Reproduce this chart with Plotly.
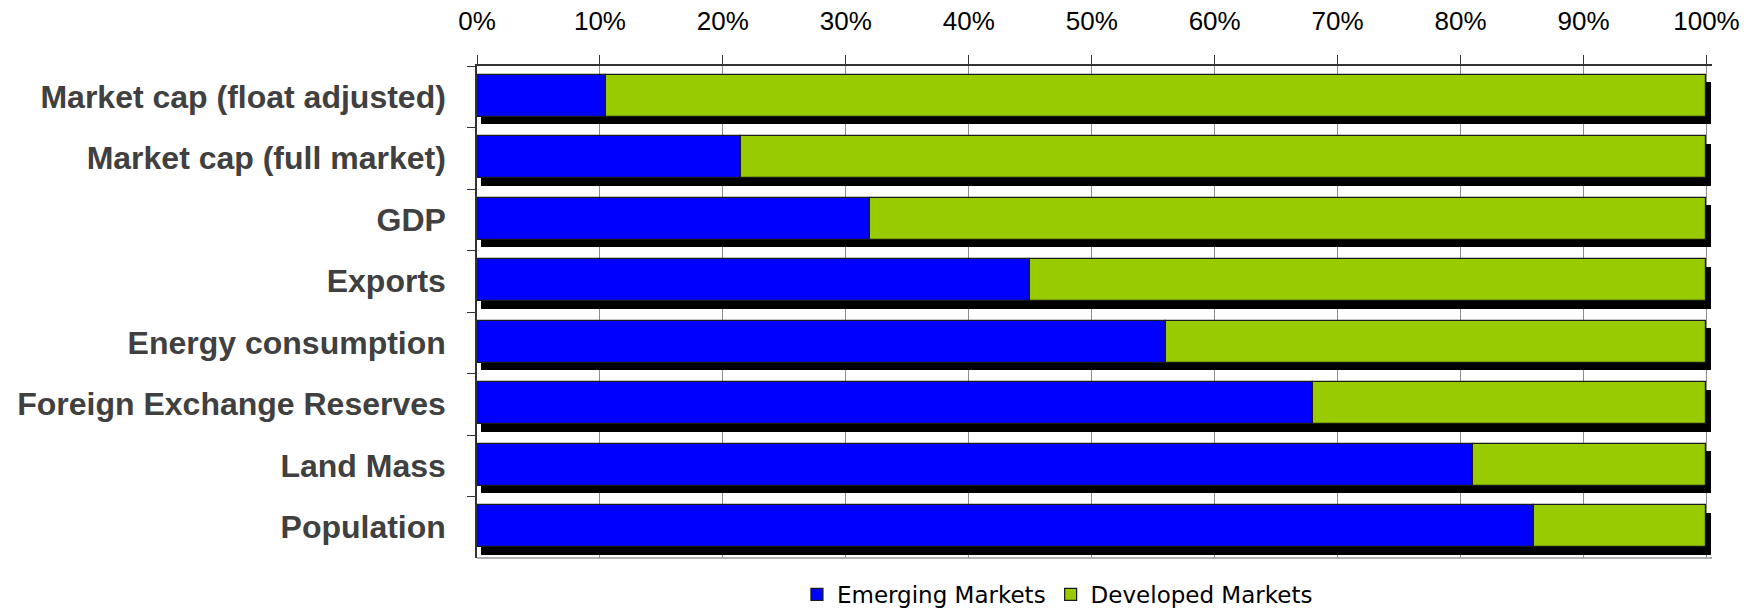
import plotly.graph_objects as go

# Share of the world total held by emerging vs developed markets (%)
categories = [
    "Market cap (float adjusted)",
    "Market cap (full market)",
    "GDP",
    "Exports",
    "Energy consumption",
    "Foreign Exchange Reserves",
    "Land Mass",
    "Population",
]
emerging = [10.5, 21.5, 32, 45, 56, 68, 81, 86]
developed = [100 - v for v in emerging]
totals = [e + d for e, d in zip(emerging, developed)]
x_ticks = list(range(0, 101, 10))

BAR_W = 0.678
BAR_OFF = -0.354   # bar start relative to category centre
SHADOW_DX = 0.33   # horizontal shadow shift, in % units
SHADOW_DY = 0.12   # vertical shadow shift, in category units

fig = go.Figure()

# drop shadow behind each full-width bar
fig.add_trace(go.Bar(
    y=categories, x=totals, base=[SHADOW_DX] * len(categories),
    orientation="h", width=BAR_W, offset=BAR_OFF + SHADOW_DY,
    marker=dict(color="black", line=dict(width=0)),
    showlegend=False, hoverinfo="skip",
))
fig.add_trace(go.Bar(
    y=categories, x=emerging, base=[0] * len(categories),
    orientation="h", width=BAR_W, offset=BAR_OFF,
    name="Emerging Markets",
    marker=dict(color="#0000FF", line=dict(color="#1a1a1a", width=1.2)),
))
fig.add_trace(go.Bar(
    y=categories, x=developed, base=emerging,
    orientation="h", width=BAR_W, offset=BAR_OFF,
    name="Developed Markets",
    marker=dict(color="#99CC00", line=dict(color="#1a1a1a", width=1.2)),
))

fig.update_layout(
    width=1756, height=613,
    margin=dict(l=477, r=44, t=66, b=55, autoexpand=False),
    paper_bgcolor="white", plot_bgcolor="white",
    barmode="overlay", bargap=0,
    font=dict(family="Liberation Sans, Arial, sans-serif", color="black"),
    legend=dict(
        orientation="h", x=0.47, xanchor="center", y=-0.074, yanchor="middle",
        font=dict(size=23, color="black", family="DejaVu Sans, sans-serif"),
        itemwidth=30, traceorder="normal", itemclick=False,
    ),
    shapes=[dict(type="line", xref="paper", yref="paper", x0=0, x1=1, y0=0, y1=0,
                 line=dict(color="#9a9a9a", width=1.5), layer="above")],
)

fig.update_xaxes(
    side="top", range=[0, 100.45], automargin=False,
    tickvals=x_ticks, ticktext=[f"{v}%" for v in x_ticks],
    tickfont=dict(size=26, color="black"),
    ticks="outside", ticklen=9, tickcolor="#333333", tickwidth=1,
    ticklabelstandoff=15,
    showline=True, linecolor="#333333", linewidth=1.5,
    showgrid=True, gridcolor="#8c8c8c", gridwidth=1.3,
    zeroline=False,
)
fig.update_yaxes(
    type="category", categoryorder="array", categoryarray=categories,
    autorange="reversed", tickson="boundaries", automargin=False,
    ticks="outside", ticklen=8, tickcolor="#333333", tickwidth=1,
    tickfont=dict(size=32, color="#404040", family="Liberation Sans, Arial, sans-serif", weight="bold"),
    ticklabelstandoff=23,
    showline=True, linecolor="#333333", linewidth=1.5,
    showgrid=False, zeroline=False,
)

fig.write_html("out.html")
